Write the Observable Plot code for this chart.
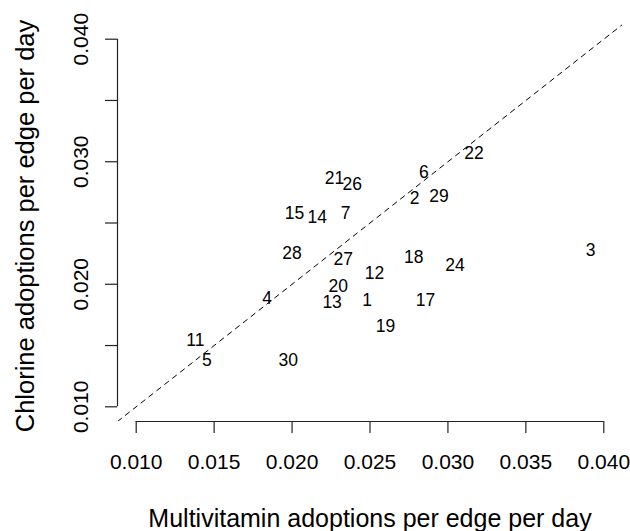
<!DOCTYPE html>
<html><head><meta charset="utf-8">
<script src="https://cdn.jsdelivr.net/npm/d3@7"></script>
<script src="https://cdn.jsdelivr.net/npm/@observablehq/plot@0.6"></script>
<style>body{margin:0;background:#fff}</style>
</head><body><div id="chart"></div>
<script>
const labels = ["1","2","3","4","5","6","7","11","12","13","14","15","17","18","19","20","21","22","24","26","27","28","29","30"];
const multivitamin = [0.02482,0.02786,0.03916,0.0184,0.01454,0.02846,0.02343,0.01379,0.02529,0.02257,0.02161,0.02015,0.02856,0.02781,0.0260,0.02296,0.02272,0.03167,0.03045,0.02386,0.02328,0.0200,0.02942,0.01975];
const chlorine = [0.01867,0.02698,0.02275,0.01885,0.01382,0.0291,0.02575,0.0154,0.02085,0.01853,0.02543,0.0258,0.01872,0.0222,0.01654,0.01981,0.02861,0.03071,0.02158,0.02815,0.02207,0.02248,0.02717,0.01376];
const xTicks = [0.010,0.015,0.020,0.025,0.030,0.035,0.040];
const yTickMarks = [0.010,0.015,0.020,0.025,0.030,0.035,0.040];
const yTickLabels = [0.010,0.020,0.030,0.040];
const limits = [0.010, 0.040];
const xTitle = "Multivitamin adoptions per edge per day";
const yTitle = "Chlorine adoptions per edge per day";

const span = limits[1] - limits[0];
const domain = [limits[0] - 0.04 * span, limits[1] + 0.04 * span];
const points = labels.map((l, i) => ({label: l, x: multivitamin[i], y: chlorine[i]}));
const fmt = d3.format(".3f");
const font = "'Liberation Sans', Arial, Helvetica, sans-serif";

const chart = Plot.plot({
  width: 630, height: 531,
  marginLeft: 117, marginRight: 8, marginTop: 24, marginBottom: 110,
  x: {domain}, y: {domain},
  style: {fontFamily: font, background: "white", color: "black"},
  marks: [
    Plot.axisX({ticks: xTicks, tickSize: 12, tickPadding: 21, fontSize: 21, tickFormat: fmt, label: null, stroke: "#222", strokeWidth: 1.2, fill: "black"}),
    Plot.ruleY([{y: domain[0], x1: xTicks[0], x2: xTicks[xTicks.length - 1]}], {y: "y", x1: "x1", x2: "x2", stroke: "#222", strokeWidth: 1.2}),
    Plot.axisY({ticks: yTickMarks, tickSize: 12, tickFormat: () => "", label: null, stroke: "#222", strokeWidth: 1.2}),
    Plot.ruleX([{x: domain[0], y1: yTickMarks[0], y2: yTickMarks[yTickMarks.length - 1]}], {x: "x", y1: "y1", y2: "y2", stroke: "#222", strokeWidth: 1.2}),
    Plot.text(yTickLabels, {y: d => d, text: d => fmt(d), frameAnchor: "left", dx: -36, rotate: -90, textAnchor: "middle", lineAnchor: "middle", fontSize: 21, fill: "black"}),
    Plot.line([[domain[0], domain[0]], [domain[1], domain[1]]], {stroke: "black", strokeWidth: 1, strokeDasharray: "5,5", clip: true}),
    Plot.text(points, {x: "x", y: "y", text: "label", fontSize: 17.5, fill: "black", textAnchor: "middle", lineAnchor: "middle"}),
    Plot.text([xTitle], {text: d => d, frameAnchor: "bottom", dy: 97, textAnchor: "middle", lineAnchor: "middle", fontSize: 25, fill: "black"}),
    Plot.text([yTitle], {text: d => d, frameAnchor: "left", dx: -92, dy: 3, rotate: -90, textAnchor: "middle", lineAnchor: "middle", fontSize: 25.5, fill: "black"})
  ]
});
document.getElementById("chart").appendChild(chart);
</script>
</body></html>
